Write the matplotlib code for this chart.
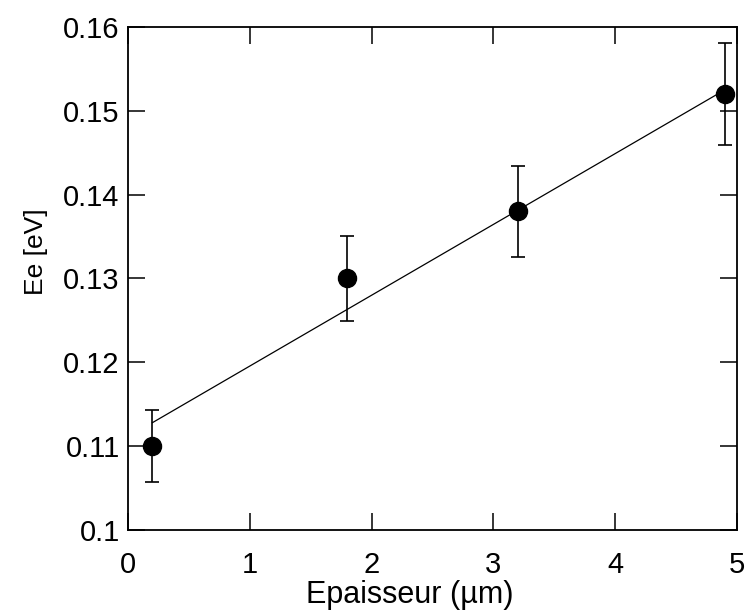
import matplotlib
matplotlib.use("Agg")
import matplotlib.pyplot as plt

# thickness (um) vs Ee (eV) with error bars
thickness = [0.2, 1.8, 3.2, 4.9]
energy = [0.110, 0.130, 0.138, 0.152]
energy_err = [0.0043, 0.0051, 0.0054, 0.0061]

# fitted line end points
fit_x = [0.2, 4.9]
fit_y = [0.1128, 0.1525]

xticks = [0, 1, 2, 3, 4, 5]
yticks = [0.1, 0.11, 0.12, 0.13, 0.14, 0.15, 0.16]
ytick_labels = ["0.1", "0.11", "0.12", "0.13", "0.14", "0.15", "0.16"]

plt.rcParams["font.family"] = ["Liberation Sans", "DejaVu Sans"]

fig = plt.figure(figsize=(7.47, 6.12), dpi=100)
ax = fig.add_axes([0.1714, 0.134, 0.8152, 0.8219])

ax.plot(fit_x, fit_y, color="black", lw=0.9)
ax.errorbar(thickness, energy, yerr=energy_err, fmt="o", color="black",
            ms=13, elinewidth=1.2, capsize=5, capthick=1.2)

ax.set_xlim(0, 5)
ax.set_ylim(0.1, 0.16)
ax.set_xticks(xticks)
ax.set_yticks(yticks)
ax.set_yticklabels(ytick_labels)

ax.tick_params(direction="in", length=12, width=1.1, top=True, right=True,
               labelsize=21, colors="black")
ax.tick_params(axis="x", pad=15)
ax.tick_params(axis="y", pad=6)
for sp in ax.spines.values():
    sp.set_linewidth(1.3)

ax.set_xlabel("Epaisseur (µm)", fontsize=22)
ax.set_ylabel("Ee [eV]", fontsize=19)
ax.xaxis.set_label_coords(0.463, -0.099)
ax.yaxis.set_label_coords(-0.131, 0.553)

fig.savefig("out.png", dpi=100)
